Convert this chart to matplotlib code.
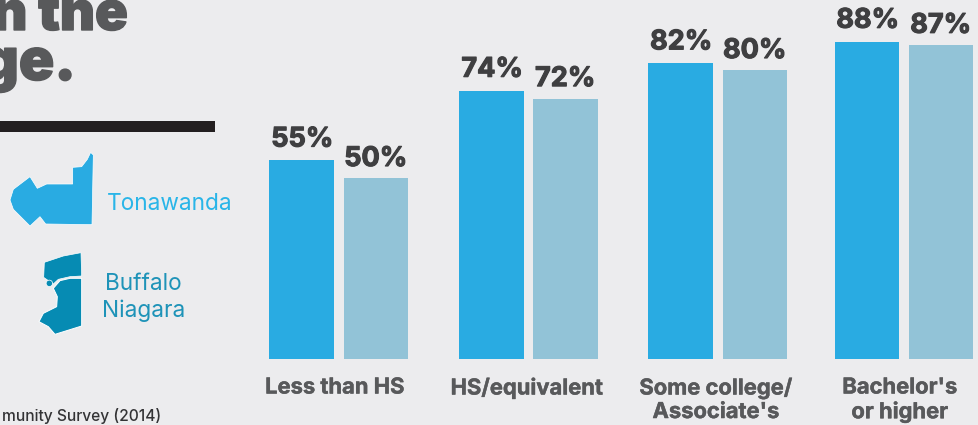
import matplotlib
matplotlib.use("Agg")
import matplotlib.pyplot as plt
import matplotlib.patheffects as pe
from matplotlib.patches import Polygon, Circle, Rectangle

categories = ["Less than HS", "HS/equivalent", "Some college/\nAssociate's", "Bachelor's\nor higher"]
tonawanda = [55, 74.4, 82, 88]
buffalo_niagara = [50, 72.2, 80, 87]

W, H = 979, 425
BG = "#ECECEE"
plt.rcParams["font.family"] = ["Inter", "Open Sans", "DejaVu Sans"]

fig = plt.figure(figsize=(W / 100, H / 100), dpi=100, facecolor=BG)

# Pixel-space layer for annotation, rule and map shapes
deco = fig.add_axes([0, 0, 1, 1], facecolor=BG)
deco.set_xlim(0, W)
deco.set_ylim(H, 0)
deco.axis("off")

# Bars: same frame, y axis in percent
ax = fig.add_axes([0, 0, 1, 1], facecolor="none")
PX_PER_PCT = 3.6
BASE = 358.5
ax.set_xlim(0, W)
ax.set_ylim(-(H - BASE) / PX_PER_PCT, BASE / PX_PER_PCT)
ax.axis("off")

left_x = [269.5, 459.5, 648.5, 835]
right_x = [344, 533.5, 723, 909]
bw = 64.5
label_x = [335, 527, 716, 900]
C1, C2 = "#29ABE2", "#92C3D7"
DARK = "#3F3F41"
GREY = "#58595B"

def thick(w, c):
    return [pe.withStroke(linewidth=w, foreground=c)]

for i in range(len(categories)):
    ax.bar(left_x[i], tonawanda[i], width=bw, align="edge", color=C1)
    ax.bar(right_x[i], buffalo_niagara[i], width=bw, align="edge", color=C2)
    ax.text(left_x[i] + bw / 2 + 0.5, tonawanda[i] + 2.2, f"{tonawanda[i]:.0f}%",
            ha="center", va="bottom", fontsize=19.5, fontweight="bold", color=DARK,
            path_effects=thick(0.8, DARK))
    ax.text(right_x[i] + bw / 2 - 0.5, buffalo_niagara[i] + 1.8, f"{buffalo_niagara[i]:.0f}%",
            ha="center", va="bottom", fontsize=19.5, fontweight="bold", color=DARK,
            path_effects=thick(0.8, DARK))
    deco.text(label_x[i], 377.5, categories[i], ha="center", va="top", fontsize=15.8,
              fontweight="bold", color=GREY, linespacing=1.22, path_effects=thick(0.3, GREY))

# Title fragments (cropped on the left, as in the reference)
deco.text(128, 30, "n the", ha="right", va="baseline", fontsize=39, fontweight="black", color=GREY,
          path_effects=thick(1.0, GREY))
deco.text(76, 80, "ge.", ha="right", va="baseline", fontsize=42, fontweight="black", color=GREY,
          path_effects=thick(1.0, GREY))

# Rule
deco.add_patch(Rectangle((0, 121), 215, 10.5, color="#231F20", lw=0))

# Legend maps (traced decorative shapes)
def zp(pts):
    return [(x / 3, y / 3 + 120) for x, y in pts]

deco.add_patch(Polygon(zp([(272, 97), (280, 105), (276, 314), (137, 312), (120, 290), (90, 318),
                           (40, 268), (30, 240), (40, 208), (90, 170), (112, 205), (140, 192),
                           (218, 192), (218, 142), (245, 140), (262, 118)]),
                       fc=C1, ec="white", lw=0.5))
C3 = "#068BB3"
deco.add_patch(Polygon(zp([(133, 427), (190, 408), (243, 398), (245, 468), (210, 470), (175, 478),
                           (160, 492), (135, 475), (131, 472)]), fc=C3, ec="white", lw=0.5))
deco.add_patch(Polygon(zp([(245, 475), (210, 475), (180, 482), (160, 505), (172, 530), (170, 560),
                           (130, 580), (117, 605), (145, 620), (165, 643), (245, 618)]),
                       fc=C3, ec="white", lw=0.7))
deco.add_patch(Circle((148 / 3, 490 / 3 + 120), 3.2, fc=C3, ec="white", lw=0.5))

deco.text(170, 204, "Tonawanda", ha="center", va="center", fontsize=16.3, color="#29B5E8")
deco.text(143.5, 297.5, "Buffalo\nNiagara", ha="center", va="center", fontsize=16.3,
          color="#1E93B8", linespacing=1.2)

deco.text(161, 416, "munity Survey (2014)", ha="right", va="center", fontsize=11.2,
          fontweight="medium", color="#333335")

fig.savefig("out.png", dpi=100, facecolor=BG)
